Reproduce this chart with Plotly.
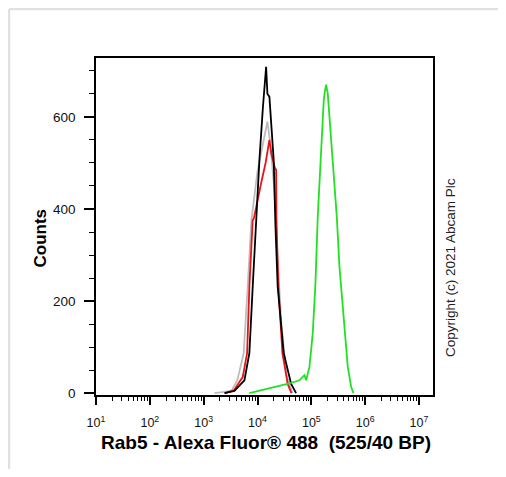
import plotly.graph_objects as go

# ---- data (log10 of fluorescence, counts) ----
gray_log = [3.200, 3.515, 3.626, 3.743, 3.818, 3.887, 3.998, 4.110, 4.184, 4.240, 4.314, 4.370, 4.444, 4.537, 4.650]
gray_cnt = [0, 5, 28, 87, 231, 376, 480, 550, 590, 540, 440, 300, 150, 40, 0]

red_log = [3.388, 3.560, 3.725, 3.807, 3.849, 3.911, 3.933, 4.000, 4.067, 4.150, 4.221, 4.258, 4.320, 4.346, 4.351, 4.388, 4.463, 4.561, 4.630]
red_cnt = [0, 6, 35, 87, 231, 376, 380, 420, 456, 500, 550, 520, 490, 485, 380, 231, 87, 20, 0]

black_log = [3.388, 3.571, 3.757, 3.849, 3.911, 3.974, 4.035, 4.100, 4.160, 4.184, 4.221, 4.258, 4.301, 4.333, 4.375, 4.487, 4.625, 4.717]
black_cnt = [0, 5, 28, 87, 231, 376, 506, 620, 709, 650, 644, 580, 506, 365, 231, 87, 20, 0]

green_log = [3.849, 4.097, 4.345, 4.593, 4.779, 4.872, 4.903, 4.965, 5.026, 5.076, 5.119, 5.163, 5.200, 5.231, 5.256, 5.274, 5.305, 5.336, 5.386, 5.430, 5.473, 5.522, 5.572, 5.615, 5.677, 5.739, 5.782]
green_cnt = [0, 7, 14, 21, 28, 39, 28, 57, 130, 238, 383, 492, 565, 637, 659, 670, 651, 601, 528, 456, 383, 275, 202, 130, 57, 14, 0]

x_tickvals = [1e1, 1e2, 1e3, 1e4, 1e5, 1e6, 1e7]
x_ticktext = ["10<sup>1</sup>", "10<sup>2</sup>", "10<sup>3</sup>", "10<sup>4</sup>",
              "10<sup>5</sup>", "10<sup>6</sup>", "10<sup>7</sup>"]
y_tickvals = [0, 200, 400, 600]

series = [
    (gray_log, gray_cnt, "#bdbdbd"),
    (red_log, red_cnt, "#e8141c"),
    (black_log, black_cnt, "#000000"),
    (green_log, green_cnt, "#22e022"),
]

fig = go.Figure()
for lg, cnt, col in series:
    fig.add_trace(go.Scatter(
        x=[10 ** v for v in lg], y=cnt, mode="lines",
        line=dict(color=col, width=1.8), hoverinfo="skip", showlegend=False))

# page body has an 8px margin, so the figure is drawn 8px in from the window edge
OFF = 8
W, H = 506 - 2 * OFF, 477 - 2 * OFF
# reference plot area in window pixels: x 96..433, y 58..395
L, T = 96 - OFF, 58 - OFF
R, B = W - (433 - OFF), H - (395 - OFF)
pw, ph = W - L - R, H - T - B

def px(xw):
    return (xw - OFF - L) / pw

def py(yw):
    return (H - B - (yw - OFF)) / ph

fig.update_layout(
    width=W, height=H,
    margin=dict(l=L, r=R, t=T, b=B),
    paper_bgcolor="white", plot_bgcolor="white",
    font=dict(family="Liberation Sans, Arial, sans-serif", color="black"),
    xaxis=dict(
        type="log", range=[1, 7.26],
        tickvals=x_tickvals, ticktext=x_ticktext,
        ticks="outside", ticklen=8, tickwidth=1.5, tickcolor="black",
        ticklabelstandoff=7,
        showline=True, linecolor="black", linewidth=1.5, mirror=True,
        showgrid=False, zeroline=False,
        tickfont=dict(size=12.5, color="#111"),
        minor=dict(ticks="outside", ticklen=4, tickwidth=1, tickcolor="black", dtick="D1", showgrid=False),
    ),
    yaxis=dict(
        range=[-4, 728],
        tickvals=y_tickvals,
        ticks="outside", ticklen=10, tickwidth=1.5, tickcolor="black",
        ticklabelstandoff=6,
        showline=True, linecolor="black", linewidth=1.5, mirror=True,
        showgrid=False, zeroline=False,
        tickfont=dict(size=13.5, color="#111"),
        minor=dict(ticks="outside", ticklen=5, tickwidth=1, tickcolor="black", dtick=50, showgrid=False),
    ),
    annotations=[
        dict(text="<b>Rab5 - Alexa Fluor® 488  (525/40 BP)</b>", xref="paper", yref="paper",
             x=px(266), y=py(442), xanchor="center", yanchor="middle", showarrow=False,
             font=dict(size=19, color="black")),
        dict(text="<b>Counts</b>", xref="paper", yref="paper",
             x=px(39.5), y=py(238), xanchor="center", yanchor="middle", showarrow=False,
             textangle=-90, font=dict(size=17, color="black")),
        dict(text="Copyright (c) 2021 Abcam Plc", xref="paper", yref="paper",
             x=px(450), y=py(268), xanchor="center", yanchor="middle", showarrow=False,
             textangle=-90, font=dict(size=13.5, color="#222")),
    ],
    shapes=[
        dict(type="line", xref="paper", yref="paper", x0=px(9), x1=px(506), y0=py(9), y1=py(9),
             line=dict(color="#e0e0e0", width=2.5)),
        dict(type="line", xref="paper", yref="paper", x0=px(9), x1=px(9), y0=py(9), y1=py(477),
             line=dict(color="#e0e0e0", width=2.5)),
    ],
)

fig.write_html("out.html")
